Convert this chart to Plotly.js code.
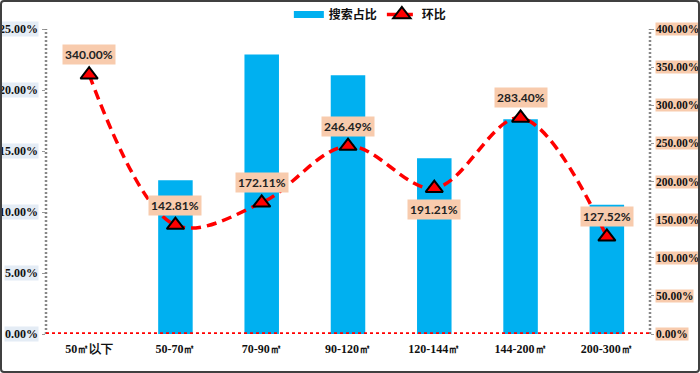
<!DOCTYPE html>
<html><head><meta charset="utf-8">
<script src="https://cdn.plot.ly/plotly-3.0.1.min.js"></script>
<style>
html,body{margin:0;padding:0;background:#fff;}
#wrap{position:relative;width:700px;height:373px;}
#chart{width:700px;height:373px;}
#frame{position:absolute;left:0;top:0;width:700px;height:373px;box-sizing:border-box;border:2px solid #404040;border-radius:4px;pointer-events:none;}
</style></head>
<body>
<div id="wrap"><div id="chart"></div><div id="frame"></div></div>
<script>
const categories = ['50㎡以下','50-70㎡','70-90㎡','90-120㎡','120-144㎡','144-200㎡','200-300㎡'];
const searchShare = [null, 12.6, 22.9, 21.2, 14.4, 17.6, 10.6];
const momChange = [340.00, 142.81, 172.11, 246.49, 191.21, 283.40, 127.52];
const leftTicks = [0, 5, 10, 15, 20, 25];
const rightTicks = [0, 50, 100, 150, 200, 250, 300, 350, 400];

const tickFont = {family:'Liberation Serif', size:12, color:'#111', weight:'bold'};
const rightTickFont = {family:'Liberation Serif', size:11.5, color:'#111', weight:'bold'};

const bar = {
  type:'bar', name:'搜索占比', x:categories, y:searchShare, showlegend:false,
  marker:{color:'#00B0F0'}, width:0.4, yaxis:'y', hoverinfo:'skip'
};
const barLegend = {
  type:'scatter', mode:'lines', name:'搜索占比', x:[null], y:[null], yaxis:'y',
  line:{color:'#00B0F0', width:7}, hoverinfo:'skip'
};
const line = {
  type:'scatter', mode:'lines+markers', name:'环比', x:categories, y:momChange, yaxis:'y2',
  line:{color:'#FF0000', width:3.5, dash:'10px,6px', shape:'spline', smoothing:1},
  marker:{symbol:'triangle-up', size:15, color:'#FF0000', line:{color:'#000', width:2}},
  hoverinfo:'skip'
};

const annotations = [];
momChange.forEach((v,i)=>{
  annotations.push({
    x:categories[i], y:v, xref:'x', yref:'y2', text:v.toFixed(2)+'%', showarrow:false,
    yshift: i===4 ? -21 : 20, bgcolor:'#F8CBAD', borderpad:2,
    font:{family:'Lato', size:12, color:'#222', weight:'bold'}
  });
});
leftTicks.forEach(v=>{
  annotations.push({
    x:0, xref:'paper', xanchor:'right', xshift:-7, y:v, yref:'y', text:v.toFixed(2)+'%',
    showarrow:false, bgcolor:'#E4ECF5', borderpad:0, font:tickFont
  });
});
rightTicks.forEach(v=>{
  annotations.push({
    x:1, xref:'paper', xanchor:'left', xshift:5, y:v, yref:'y2', text:v.toFixed(2)+'%',
    showarrow:false, bgcolor:'#F8CBAD', borderpad:0, font:rightTickFont
  });
});

const layout = {
  width:700, height:373,
  margin:{l:46, r:50, t:28, b:39},
  paper_bgcolor:'#fff', plot_bgcolor:'#fff',
  showlegend:true,
  legend:{orientation:'h', x:0.537, xanchor:'center', y:1, yref:'container', yanchor:'top',
    font:{family:'Noto Sans CJK SC', size:12, color:'#111', weight:'bold'},
    itemwidth:30, tracegroupgap:0},
  xaxis:{type:'category', showgrid:false, zeroline:false, showline:false, ticks:'',
    tickfont:tickFont, ticklabelstandoff:6},
  yaxis:{range:[0,25], tickvals:leftTicks, showticklabels:false, showgrid:false, zeroline:false,
    showline:false, ticks:'outside', ticklen:3, tickcolor:'#999', tickwidth:1},
  yaxis2:{range:[0,400], tickvals:rightTicks, overlaying:'y', side:'right', showticklabels:false,
    showgrid:false, zeroline:false, showline:false, ticks:'outside', ticklen:3, tickcolor:'#999', tickwidth:1},
  bargap:0.6,
  annotations:annotations,
  shapes:[
    {type:'line', xref:'paper', yref:'paper', x0:0, x1:0, y0:0, y1:1, line:{color:'#888', width:2.5, dash:'2px,2px'}},
    {type:'line', xref:'paper', yref:'paper', x0:1, x1:1, y0:0, y1:1, line:{color:'#888', width:2.5, dash:'2px,2px'}},
    {type:'line', xref:'paper', yref:'y', x0:0, x1:1, y0:0, y1:0, line:{color:'#FF0000', width:3.5, dash:'3px,3px'}, layer:'above'}
  ]
};
Plotly.newPlot('chart', [bar, barLegend, line], layout, {displayModeBar:false, staticPlot:true});
</script>
</body></html>
